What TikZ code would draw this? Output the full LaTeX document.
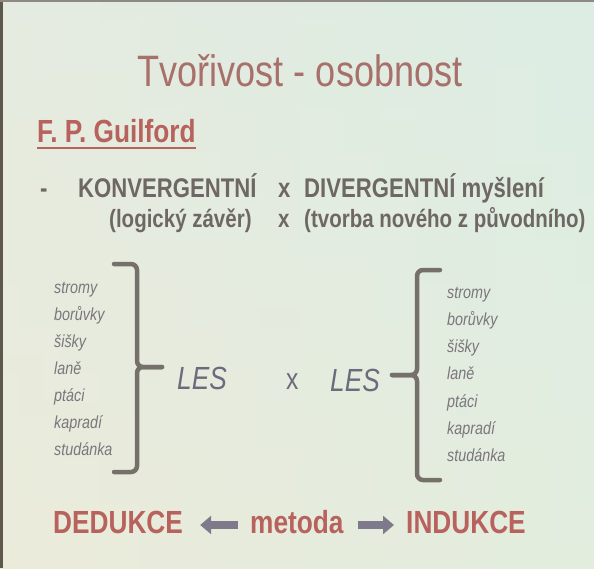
\documentclass[tikz,border=0pt]{standalone}
\usepackage{fontspec}
\setmainfont{Liberation Sans}[FakeStretch=0.82]
\usetikzlibrary{arrows.meta}
\definecolor{bgL}{HTML}{ECEADD}
\definecolor{bgR}{HTML}{DDEDE4}
\definecolor{bgB}{HTML}{EAEDD8}
\definecolor{rose}{HTML}{A8706A}
\definecolor{roseB}{HTML}{B8625D}
\definecolor{grayT}{HTML}{6E6763}
\definecolor{grayL}{HTML}{7A767C}
\definecolor{lesC}{HTML}{6C6B7B}
\definecolor{brk}{HTML}{76706A}
\definecolor{arr}{HTML}{7E7A8C}
\definecolor{edge}{HTML}{5E574C}
\newcommand{\fs}[1]{\fontsize{#1}{#1}\selectfont}
\begin{document}
\begin{tikzpicture}[x=1pt,y=-1pt,
  txt/.style={inner sep=0pt,anchor=base west},
  ctr/.style={inner sep=0pt,anchor=base},
  item/.style={txt,font=\fs{17.5}\itshape,text=grayL},
  head/.style={txt,font=\fs{27}\bfseries,text=grayT},
  sub/.style={txt,font=\fs{25}\bfseries,text=grayT},
  les/.style={txt,font=\fs{32}\itshape,text=lesC},
  brace/.style={draw=brk,line width=4.5pt,rounded corners=6pt,line cap=round},
  fat/.style={draw=arr,line width=7.5pt,-{Triangle[width=18pt,length=11pt]}},
  big/.style={txt,font=\fs{32}\bfseries,text=roseB}]
\useasboundingbox (0,0) rectangle (594,568);
\shade[left color=bgL,right color=bgR] (0,0) rectangle (594,568);
\shade[top color=bgR,bottom color=bgB,opacity=0.45] (0,0) rectangle (594,568);
\fill[edge] (0,0) rectangle (3,568);
\fill[edge!70] (0,0) rectangle (594,1.5);
% title
\node[ctr,font=\fs{44},text=rose] (title) at (300,86) {Tvořivost - osobnost};
\node[txt,font=\fs{32}\bfseries,text=roseB] (fp) at (37,142) {F. P. Guilford};
\draw[roseB,line width=2.5pt] ([yshift=-6pt]fp.base west) -- ([yshift=-6pt]fp.base east);
% header lines
\node[head] (dash) at (40,197) {-};
\node[head] (konv) at (78,197) {KONVERGENTNÍ};
\node[head] (x1) at (278,197) {x};
\node[head] (div) at (304,197) {DIVERGENTNÍ myšlení};
\node[sub] (log) at (109,227) {(logický závěr)};
\node[sub] (x2) at (278,227) {x};
\node[sub] (tvo) at (304,227) {(tvorba nového z původního)};
% left list
\foreach \t [count=\i from 0] in {stromy,borůvky,šišky,laně,ptáci,kapradí,studánka}
  \node[item] (l\i) at (54,293+27*\i) {\t};
% right list
\foreach \t [count=\i from 0] in {stromy,borůvky,šišky,laně,ptáci,kapradí,studánka}
  \node[item] (r\i) at (447,298+27.3*\i) {\t};
% braces
\draw[brace] (114,264) -| (137,367) -- (162,367);
\draw[brace] (162,367) -- (137,367) |- (114,472);
\draw[brace] (440,270) -| (417,375) -- (392,375);
\draw[brace] (392,375) -- (417,375) |- (440,480);
% LES x LES
\node[les] (lesL) at (177,389) {LES};
\node[txt,font=\fs{30},text=lesC] (x3) at (286,389) {x};
\node[les] (lesR) at (330,391) {LES};
% bottom line
\node[big] (ded) at (53,533) {DEDUKCE};
\node[big] (met) at (250,533) {metoda};
\node[big] (ind) at (406,533) {INDUKCE};
\draw[fat] ([xshift=-12pt,yshift=8pt]met.base west) -- ([xshift=17pt,yshift=8pt]ded.base east);
\draw[fat] ([xshift=14pt,yshift=8pt]met.base east) -- ([xshift=-12pt,yshift=8pt]ind.base west);
\end{tikzpicture}
\end{document}
